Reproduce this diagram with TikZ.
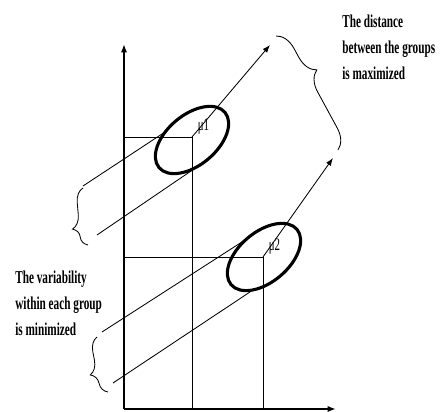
\documentclass[tikz,border=0pt]{standalone}
\usepackage{fontspec}
\newfontfamily\narrowfont[FakeStretch=0.62]{Liberation Serif}
\usetikzlibrary{arrows.meta,positioning,decorations.pathreplacing,calc}

\begin{document}
\begin{tikzpicture}[x=0.025cm, y=0.025cm,
        axisline/.style={line width=1.7pt, -{Latex[length=6pt,width=4.5pt]}},
        guide/.style={line width=0.6pt},
        cluster/.style={line width=2.2pt},
        ray/.style={line width=0.6pt, -{Latex[length=5.5pt,width=4pt]}},
        note/.style={font=\narrowfont\bfseries\fontsize{12.9}{18.5}\selectfont, align=left, inner sep=0pt, anchor=west},
        mulabel/.style={font=\narrowfont\fontsize{12.5}{12.5}\selectfont, inner sep=0pt}]
        \useasboundingbox (0,0) rectangle (442,412);
        \coordinate (O) at (124,3);
        \coordinate (mu1) at (192,275);
        \coordinate (mu2) at (263,155);
        \draw[axisline] (O) -- (124,368);
        \draw[axisline] (O) -- (336,3);
        \draw[guide] (124,275) -- (mu1) -- (192,3);
        \draw[guide] (124,155) -- (mu2) -- (263,3);
        \draw[cluster] (192,272) ellipse [x radius=43, y radius=25, rotate=40];
        \draw[cluster] (264,155) ellipse [x radius=43, y radius=25, rotate=40];
        \node[mulabel, above right=2pt and 4pt of mu1] (lab1) {μ1};
        \node[mulabel, above right=2pt and 4pt of mu2] (lab2) {μ2};
        \draw[ray] (mu1) -- (270,367);
        \draw[ray] (mu2) -- (333,254);
        \draw[guide] (83,226) -- (165,280);
        \draw[guide] (97,177) -- (194,243);
        \draw[guide] (102,80) -- (245,172);
        \draw[guide] (113,29) -- (253,122);
        \draw[guide, decorate, decoration={brace, amplitude=10pt, aspect=0.7, mirror}] (83,224) -- (88,167);
        \draw[guide, decorate, decoration={brace, amplitude=10pt, aspect=0.64, mirror}] (97,75) -- (108,20);
        \draw[guide, decorate, decoration={brace, amplitude=14pt, aspect=0.38}] (276,376) -- (338,262);
        \node[note] (maxtext) at (342,365) {The distance\\between the groups\\is maximized};
        \node[note] (mintext) at (15,109) {The variability\\within each group\\is minimized};
    \end{tikzpicture}
\end{document}
